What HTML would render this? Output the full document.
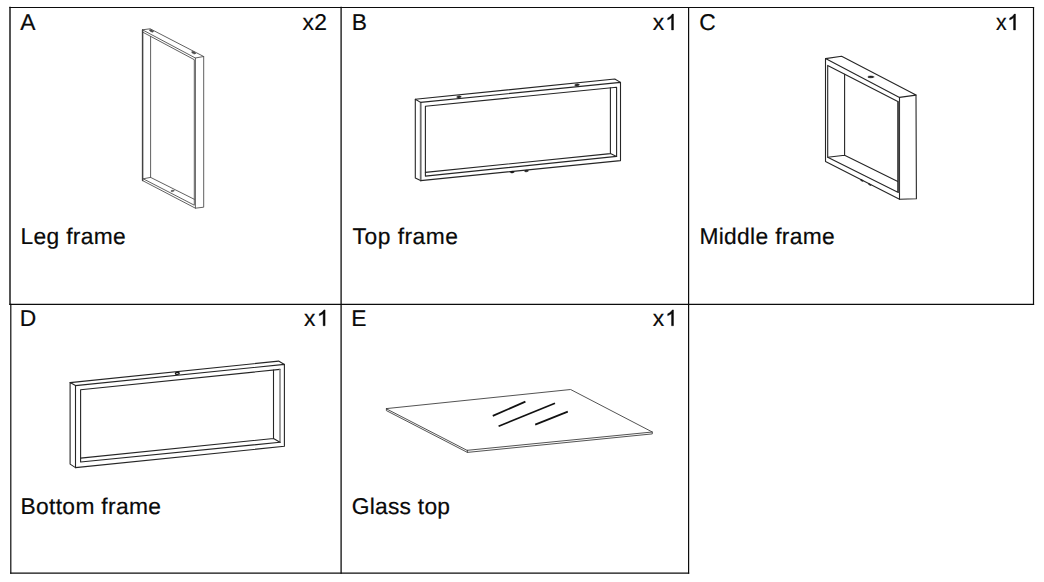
<!DOCTYPE html>
<html>
<head>
<meta charset="utf-8">
<title>Parts list</title>
<style>
  html, body { margin: 0; padding: 0; background: #fff; }
  body { width: 1044px; height: 582px; position: relative; overflow: hidden;
         font-family: "Liberation Sans", sans-serif; color: #0a0a0a; }
  svg#art { position: absolute; left: 0; top: 0; }
  .t { position: absolute; font-size: 22.8px; line-height: 26px; white-space: nowrap; text-rendering: geometricPrecision;
       transform-origin: 0 0; letter-spacing: 0.33px; -webkit-text-stroke: 0.2px #0a0a0a; }
</style>
</head>
<body>
<svg id="art" width="1044" height="582" viewBox="0 0 1044 582">
  <!-- GRID -->
  <g id="grid" stroke="#0c0c0c" stroke-width="1.2" fill="none" stroke-linecap="square">
    <line x1="10" y1="7.5" x2="1033.5" y2="7.5"/>
    <line x1="10" y1="304.4" x2="1033.5" y2="304.4"/>
    <line x1="10.8" y1="573.2" x2="688.6" y2="573.2"/>
    <line x1="10" y1="7.5" x2="10" y2="304.4" stroke-width="1.4"/>
    <line x1="10.8" y1="304.4" x2="10.8" y2="573.2"/>
    <line x1="341.1" y1="7.5" x2="341.1" y2="573.2" stroke-width="1.3"/>
    <line x1="688.6" y1="7.5" x2="688.6" y2="573.2"/>
    <line x1="1033.5" y1="7.5" x2="1033.5" y2="304.4"/>
  </g>
  <!-- DIGIT 1 (sans, no foot) -->
  <g fill="#0a0a0a" stroke="#0a0a0a" stroke-width="40">
    <path d="M763 0H583V1147Q518 1085 412.5 1023Q307 961 223 930V1104Q374 1175 487 1276Q600 1377 647 1472H763Z" transform="translate(665.3 29.9) scale(0.01072 -0.01072)"/>
    <path d="M763 0H583V1147Q518 1085 412.5 1023Q307 961 223 930V1104Q374 1175 487 1276Q600 1377 647 1472H763Z" transform="translate(1007.3 29.9) scale(0.01072 -0.01072)"/>
    <path d="M763 0H583V1147Q518 1085 412.5 1023Q307 961 223 930V1104Q374 1175 487 1276Q600 1377 647 1472H763Z" transform="translate(316.9 325.7) scale(0.01072 -0.01072)"/>
    <path d="M763 0H583V1147Q518 1085 412.5 1023Q307 961 223 930V1104Q374 1175 487 1276Q600 1377 647 1472H763Z" transform="translate(665.3 325.7) scale(0.01072 -0.01072)"/>
  </g>
  <!-- PART A -->
  <g id="partA" stroke="#4e4e4e" stroke-width="0.9" fill="none" stroke-linejoin="round" stroke-linecap="round">
    <!-- front face: top, right, bottom outer edges -->
    <path d="M142.4 29.8 L195.4 58 L195.4 208.2 L142.4 180.5"/>
    <!-- front face inner: top, right, bottom -->
    <path d="M143.2 32.4 L194.3 59.7 L194.3 205.2 L143.2 178.8"/>
    <!-- left edge (thin face reads as one line) -->
    <path d="M142.6 29.9 L142.6 180.5" stroke-width="1.5" stroke="#424242"/>
    <!-- top face -->
    <path d="M142.4 29.8 L150.2 28.8 L203.7 56.5 L195.4 58"/>
    <!-- right side face -->
    <path d="M203.7 56.5 L203.7 207.2 L195.4 208.2"/>
    <!-- inner left face + bottom inner face -->
    <path d="M150.6 36.4 L150.6 177.4 L194.3 199.3 M143.2 178.8 L150.6 177.4"/>
    <!-- holes -->
    <ellipse cx="151.4" cy="30.8" rx="2.1" ry="1" transform="rotate(27 151.4 30.8)" fill="#4a4a4a" stroke-width="0.5"/>
    <ellipse cx="193.6" cy="52.7" rx="2.1" ry="1" transform="rotate(27 193.6 52.7)" fill="#4a4a4a" stroke-width="0.5"/>
    <ellipse cx="172.5" cy="190.9" rx="1.6" ry="0.7" transform="rotate(-8 172.5 190.9)" fill="#4a4a4a" stroke-width="0.5"/>
  </g>
  <!-- PART B -->
  <g id="partB" stroke="#262626" stroke-width="1.1" fill="none" stroke-linejoin="round" stroke-linecap="round">
    <!-- left side face -->
    <path d="M420.6 102.4 L415.3 99.3 L415.3 177.9 L420.6 180.6"/>
    <!-- front-left vertical (lighter) -->
    <path d="M420.7 102.6 L420.7 180.4" stroke="#6e6e6e" stroke-width="1.8"/>
    <!-- top face back edge + right corner -->
    <path d="M415.3 99.3 L614.8 79 L620.5 82.4"/>
    <!-- front face outer (top, right, bottom) -->
    <path d="M420.6 102.4 L620.5 82.4 L620.5 160.6 L420.6 180.6"/>
    <!-- front face inner -->
    <path d="M425.4 106.3 L616.6 87.2 L616.6 156.4 L425.4 176.1 Z"/>
    <!-- right bar inner face + bottom bar inner face -->
    <path d="M610.4 87.9 L610.4 153.6 L616.6 156.4 M425.4 172.4 L610.4 153.6"/>
    <!-- holes top -->
    <ellipse cx="458.8" cy="96.9" rx="2.1" ry="1" transform="rotate(-6 458.8 96.9)" fill="#262626" stroke-width="0.6"/>
    <ellipse cx="576.9" cy="84.9" rx="2.2" ry="1" transform="rotate(-6 576.9 84.9)" fill="#262626" stroke-width="0.6"/>
    <!-- bumps bottom -->
    <ellipse cx="512.2" cy="172.1" rx="1.8" ry="0.8" transform="rotate(-6 512.2 172.1)" fill="#161616" stroke="#161616" stroke-width="0.5"/>
    <ellipse cx="526.4" cy="171" rx="1.8" ry="0.8" transform="rotate(-6 526.4 171)" fill="#161616" stroke="#161616" stroke-width="0.5"/>
  </g>
  <!-- PART C -->
  <g id="partC" stroke="#262626" stroke-width="1.1" fill="none" stroke-linejoin="round" stroke-linecap="round">
    <!-- front face outer -->
    <path d="M825.5 58.6 L899.5 97.4 L899.5 199.3 L825.5 161.5 Z"/>
    <!-- front face inner -->
    <path d="M827.7 65.4 L897.8 101.6 L897.8 192.2 L827.7 157.2 Z"/>
    <!-- top face -->
    <path d="M825.5 58.6 L841.6 56.2 L916 95.1 L899.5 97.4"/>
    <!-- right side face -->
    <path d="M916 95.1 L916.4 198.7 L899.5 199.3"/>
    <!-- inner left face + bottom inner face -->
    <path d="M844.6 74.2 L844.6 155.3 L897.8 181.6 M827.7 157.2 L844.6 155.3"/>
    <path d="M898.65 101.2 L898.65 193" stroke="#4a4a4a" stroke-width="1.6" stroke-linecap="butt"/>
    <!-- hole top -->
    <ellipse cx="870.8" cy="76.9" rx="3" ry="0.9" fill="#1a1a1a" stroke="#1a1a1a" stroke-width="0.5"/>
    <!-- bumps bottom -->
    <ellipse cx="861.8" cy="180.4" rx="1.4" ry="0.6" transform="rotate(27 861.8 180.4)" fill="#262626" stroke-width="0.5"/>
    <ellipse cx="869.7" cy="184.5" rx="1.4" ry="0.6" transform="rotate(27 869.7 184.5)" fill="#262626" stroke-width="0.5"/>
  </g>
  <!-- PART D -->
  <g id="partD" stroke="#262626" stroke-width="1.1" fill="none" stroke-linejoin="round" stroke-linecap="round">
    <!-- left side face -->
    <path d="M75.5 385.6 L70.1 382.6 L70.1 464.1 L75.5 467.6"/>
    <!-- top face back edge + right corner -->
    <path d="M70.1 382.6 L278.6 361.1 L284.4 364.4"/>
    <!-- front face outer -->
    <path d="M75.5 385.6 L284.4 364.4 L284.4 446.3 L75.5 467.6 Z"/>
    <!-- front face inner (top, left, bottom) -->
    <path d="M280 369.4 L80.6 389.7 L80.6 462 L280 442.3"/>
    <!-- front inner right vertical (lighter) -->
    <path d="M280 369.4 L280 442.3" stroke="#808080" stroke-width="1.5"/>
    <!-- right bar inner face + bottom bar inner face -->
    <path d="M273.5 370 L273.5 438.5 L280 442.3 M80.6 458.1 L273.5 438.5"/>
    <!-- hole top -->
    <ellipse cx="177.3" cy="373.4" rx="2" ry="1" transform="rotate(-6 177.3 373.4)" fill="#fff" stroke="#141414" stroke-width="1.15"/>
  </g>
  <!-- PART E -->
  <g id="partE" stroke="#404040" stroke-width="0.9" fill="none" stroke-linejoin="round" stroke-linecap="round">
    <!-- glass top surface -->
    <path d="M386.4 408.6 L570.6 389.5 L652.3 432 L467.4 450.3 Z"/>
    <!-- thickness (front edges) -->
    <path d="M386.4 408.6 L386.4 410.6 L467.4 452.4 L652.3 433.9 L652.3 432 M467.4 450.3 L467.4 452.4"/>
    <!-- reflection marks -->
    <g stroke="#111" stroke-width="1.7" stroke-linecap="butt">
      <path d="M492.8 415.9 L525.4 401.6"/>
      <path d="M498.6 426.2 L555 403.2"/>
      <path d="M535.2 424.6 L567.8 411.6"/>
    </g>
  </g>
</svg>

<div class="t" style="left:20.2px; top:9px;">A</div>
<div class="t" style="left:351.8px; top:9px;">B</div>
<div class="t" style="left:699.3px; top:9px;">C</div>
<div class="t" style="left:19.7px; top:304.7px;">D</div>
<div class="t" style="left:351.3px; top:304.7px;">E</div>

<div class="t" style="left:302.6px; top:9px;">x2</div>
<div class="t x" style="left:652.7px; top:9px;">x</div>
<div class="t x" style="left:995.6px; top:9px; transform:scaleX(0.93)">x</div>
<div class="t x" style="left:304px; top:304.7px;">x</div>
<div class="t x" style="left:652.7px; top:304.7px;">x</div>

<div class="t" style="left:20.5px; top:223px;">Leg frame</div>
<div class="t" style="left:352.6px; top:223px; letter-spacing:0.5px">Top frame</div>
<div class="t" style="left:699.4px; top:223px;">Middle frame</div>
<div class="t" style="left:20.5px; top:492.7px;">Bottom frame</div>
<div class="t" style="left:351.7px; top:492.5px; letter-spacing:0.25px">Glass top</div>
</body>
</html>
